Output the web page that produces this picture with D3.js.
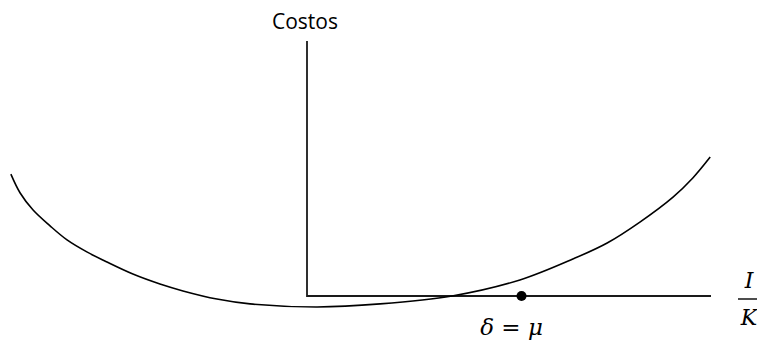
<!DOCTYPE html>
<html lang="es">
<head>
	<meta charset="utf-8">
	<title>Costos</title>
	<script src="https://d3js.org/d3.v7.min.js"></script>
	<style>
		html, body { margin: 0; padding: 0; background: #fff; }
		svg { display: block; }
	</style>
</head>
<body>
	<div id="chart"></div>
	<script>
		// Curve data (I/K vs costos, axis units: origin at 0, axis end at 100)
		const curveX = [-73.3, -71.0, -67.8, -63.6, -59.4, -54.5, -49.5, -43.1, -36.4, -30.7, -22.3, -14.1, 2.5, 18.1, 35.9, 52.7, 65.8, 74.3, 82.4, 90.6, 95.5, 99.8];
		const curveY = [47.8, 40.4, 33.7, 27.5, 22.0, 17.3, 13.3, 8.6, 4.7, 2.0, -1.2, -3.1, -4.3, -3.1, 0, 6.3, 14.5, 20.8, 29.0, 38.8, 46.3, 54.5];
		const axisEnds = { x: 100, y: 100 };
		const pointX = [53.1];
		const yLabel = "Costos";

		const width = 757, height = 341;

		const svg = d3.select("#chart")
			.append("svg")
			.attr("width", width)
			.attr("height", height);

		// Scales
		const xScale = d3.scaleLinear().domain([0, 100]).range([307, 711]);
		const yScale = d3.scaleLinear().domain([0, 100]).range([296, 41]);

		// Axes
		svg.append("path")
			.attr("fill", "none")
			.attr("stroke", "#1a1a1a")
			.attr("stroke-width", 1.8)
			.attr("d", d3.line()([
				[xScale(0), yScale(axisEnds.y)],
				[xScale(0), yScale(0)],
				[xScale(axisEnds.x), yScale(0)]
			]));

		// Curve
		const points = curveX.map((x, i) => [x, curveY[i]]);
		const line = d3.line()
			.curve(d3.curveCatmullRom.alpha(0.5))
			.x(d => xScale(d[0]))
			.y(d => yScale(d[1]));

		svg.append("path")
			.attr("fill", "none")
			.attr("stroke", "#000")
			.attr("stroke-width", 1.6)
			.attr("d", line(points));

		// Point
		svg.selectAll("circle.pt")
			.data(pointX)
			.join("circle")
			.attr("class", "pt")
			.attr("cx", d => xScale(d))
			.attr("cy", yScale(0))
			.attr("r", 5)
			.attr("fill", "#000");

		// Labels
		svg.append("text")
			.attr("x", xScale(0) - 2)
			.attr("y", 29)
			.attr("text-anchor", "middle")
			.style("font-family", "'Open Sans', sans-serif")
			.style("font-size", "21px")
			.text(yLabel);

		const eq = svg.append("text")
			.attr("x", xScale(pointX[0]) - 10)
			.attr("y", 335)
			.attr("text-anchor", "middle")
			.style("font-family", "'DejaVu Serif', serif")
			.style("font-size", "23px");
		eq.append("tspan").style("font-style", "italic").text("δ");
		eq.append("tspan").text(" = ");
		eq.append("tspan").style("font-style", "italic").text("μ");

		const fx = 749;
		svg.append("text")
			.attr("x", fx)
			.attr("y", 288)
			.attr("text-anchor", "middle")
			.style("font-family", "'DejaVu Serif', serif")
			.style("font-style", "italic")
			.style("font-size", "22px")
			.text("I");
		svg.append("line")
			.attr("x1", fx - 11)
			.attr("x2", fx + 11)
			.attr("y1", 299)
			.attr("y2", 299)
			.attr("stroke", "#000")
			.attr("stroke-width", 1.4);
		svg.append("text")
			.attr("x", fx)
			.attr("y", 325)
			.attr("text-anchor", "middle")
			.style("font-family", "'DejaVu Serif', serif")
			.style("font-style", "italic")
			.style("font-size", "22px")
			.text("K");
	</script>
</body>
</html>
